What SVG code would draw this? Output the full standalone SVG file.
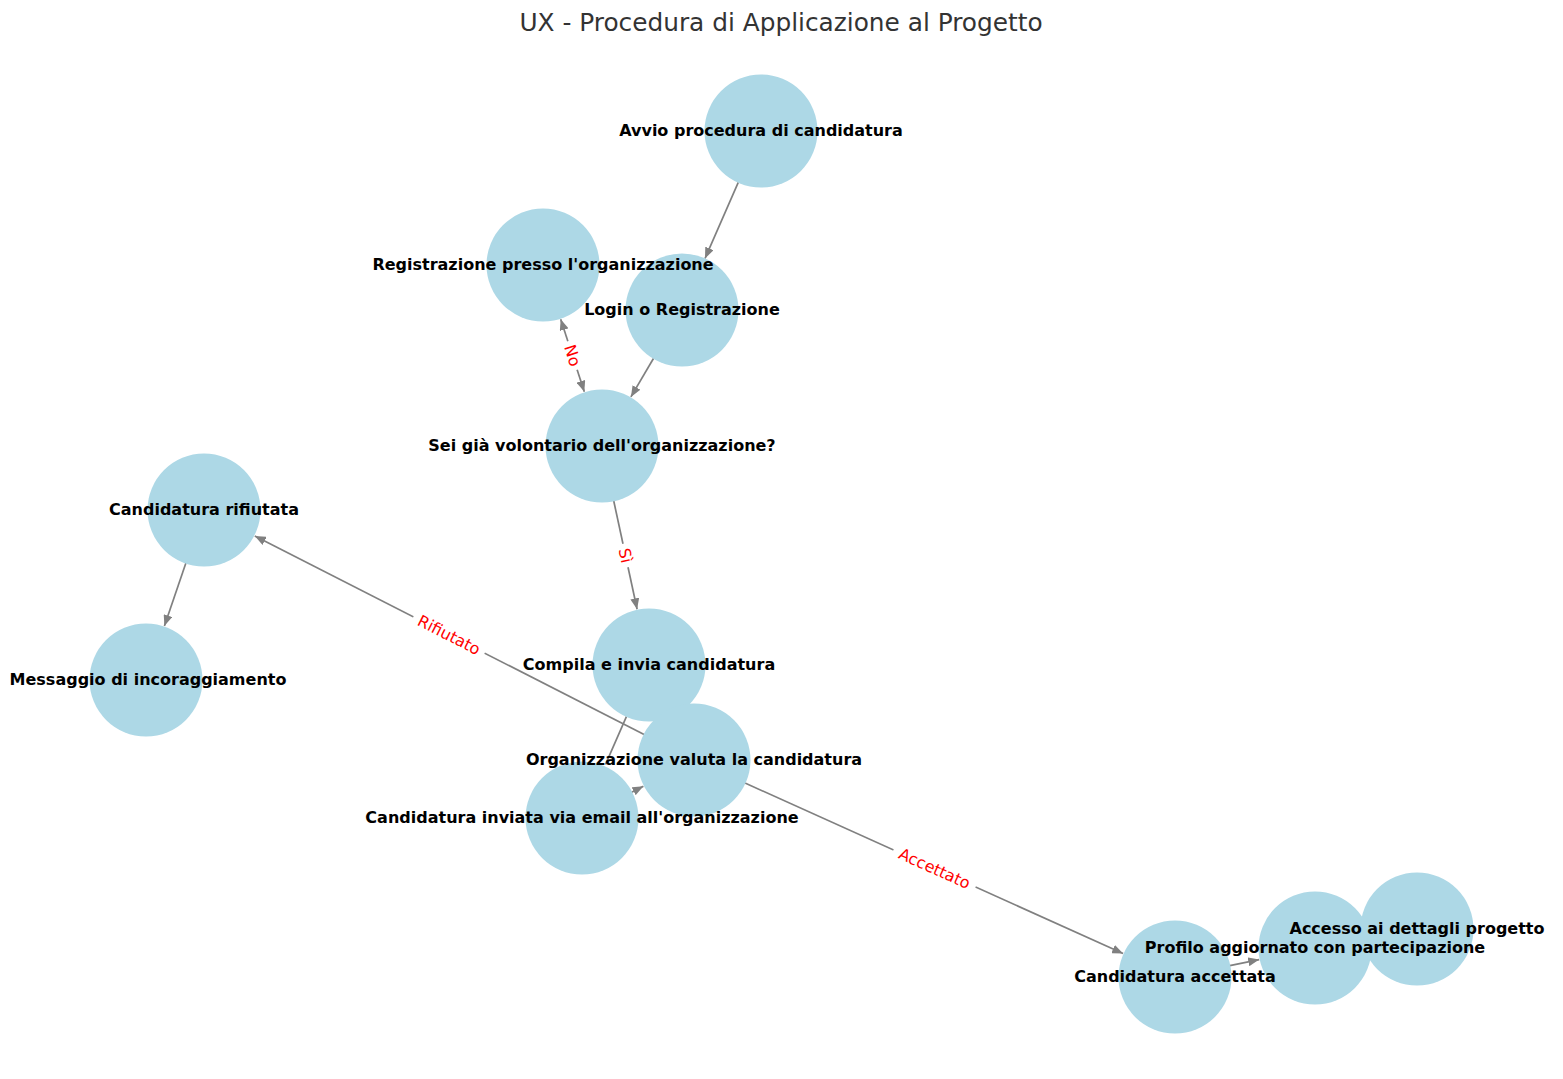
<svg xmlns="http://www.w3.org/2000/svg" width="1563" height="1079" viewBox="0 0 1563 1079">
<style>
.bg{fill:#ffffff}
.title{font-family:"DejaVu Sans",sans-serif;font-size:24.8px;fill:#333333;text-anchor:middle}
.node circle{fill:#ADD8E6}
.lbl{font-family:"DejaVu Sans",sans-serif;font-weight:bold;font-size:16px;fill:#000000;text-anchor:middle;dominant-baseline:central}
.edge{stroke:#808080;stroke-width:1.7;fill:none}
.elbl{font-family:"DejaVu Sans",sans-serif;font-size:16px;fill:#ff0000;text-anchor:middle;dominant-baseline:central}
.lblbg{fill:#ffffff}
</style>
<defs>
<marker id="arr" viewBox="0 0 11 9" refX="11" refY="4.5" markerWidth="11" markerHeight="9" markerUnits="userSpaceOnUse" orient="auto-start-reverse">
<path d="M0,0 L11,4.5 L0,9 Z" fill="#808080"/>
</marker>
<clipPath id="axclip"><rect x="10" y="0" width="1553" height="1079"/></clipPath>
</defs>
<rect class="bg" x="0" y="0" width="1563" height="1079"/>
<text class="title" x="781" y="31">UX - Procedura di Applicazione al Progetto</text>
<g id="connectors">
<line class="edge" x1="738.4" y1="182.2" x2="705" y2="258.5" marker-end="url(#arr)"/>
<line class="edge" x1="653.6" y1="358.3" x2="630.9" y2="396.9" marker-end="url(#arr)"/>
<line class="edge" x1="584.3" y1="391.8" x2="560.7" y2="319.2" marker-start="url(#arr)" marker-end="url(#arr)"/>
<line class="edge" x1="613.7" y1="500.8" x2="637.1" y2="609.3" marker-end="url(#arr)"/>
<line class="edge" x1="626.5" y1="716.3" x2="605.5" y2="764.5"/>
<line class="edge" x1="631.7" y1="792.2" x2="643.4" y2="786.2" marker-end="url(#arr)"/>
<line class="edge" x1="644.1" y1="734.5" x2="254.8" y2="535.9" marker-end="url(#arr)"/>
<line class="edge" x1="745" y1="783" x2="1123.1" y2="953.6" marker-end="url(#arr)"/>
<line class="edge" x1="185.9" y1="563" x2="164.4" y2="626" marker-end="url(#arr)"/>
<line class="edge" x1="1229.8" y1="965.6" x2="1259.2" y2="959.6" marker-end="url(#arr)"/>
</g>
<g id="n_avvio" class="node"><circle cx="761" cy="131" r="56.5"/></g>
<g id="n_registrazione" class="node"><circle cx="543" cy="265" r="56.5"/></g>
<g id="n_login" class="node"><circle cx="682" cy="310" r="56.5"/></g>
<g id="n_sei" class="node"><circle cx="602" cy="446" r="56.5"/></g>
<g id="n_rifiutata" class="node"><circle cx="204" cy="510" r="56.5"/></g>
<g id="n_messaggio" class="node"><circle cx="146" cy="680" r="56.5"/></g>
<g id="n_compila" class="node"><circle cx="649" cy="665" r="56.5"/></g>
<g id="n_organizzazione" class="node"><circle cx="694" cy="760" r="56.5"/></g>
<g id="n_inviata" class="node"><circle cx="582" cy="818" r="56.5"/></g>
<g id="n_accettata" class="node"><circle cx="1175" cy="977" r="56.5"/></g>
<g id="n_profilo" class="node"><circle cx="1315" cy="948" r="56.5"/></g>
<g id="n_accesso" class="node"><circle cx="1417" cy="929" r="56.5"/></g>
<g id="node_labels" clip-path="url(#axclip)">
<text class="lbl" x="761" y="130">Avvio procedura di candidatura</text>
<text class="lbl" x="543" y="264">Registrazione presso l'organizzazione</text>
<text class="lbl" x="682" y="309">Login o Registrazione</text>
<text class="lbl" x="602" y="445">Sei già volontario dell'organizzazione?</text>
<text class="lbl" x="204" y="509">Candidatura rifiutata</text>
<text class="lbl" x="148" y="679">Messaggio di incoraggiamento</text>
<text class="lbl" x="649" y="664">Compila e invia candidatura</text>
<text class="lbl" x="694" y="759">Organizzazione valuta la candidatura</text>
<text class="lbl" x="582" y="817">Candidatura inviata via email all'organizzazione</text>
<text class="lbl" x="1175" y="976">Candidatura accettata</text>
<text class="lbl" x="1315" y="947">Profilo aggiornato con partecipazione</text>
<text class="lbl" x="1417" y="928">Accesso ai dettagli progetto</text>
</g>
<g id="edge_labels">
<g transform="translate(572.5,355.5) rotate(72)"><rect class="lblbg" x="-15" y="-10" width="30" height="20"/><text class="elbl" x="0" y="0">No</text></g>
<g transform="translate(625.5,555.5) rotate(78)"><rect class="lblbg" x="-12" y="-10" width="24" height="20"/><text class="elbl" x="0" y="0">Sì</text></g>
<g transform="translate(449,635) rotate(27)"><rect class="lblbg" x="-40" y="-10" width="80" height="20"/><text class="elbl" x="0" y="0">Rifiutato</text></g>
<g transform="translate(934.5,868.5) rotate(24.3)"><rect class="lblbg" x="-45" y="-10" width="90" height="20"/><text class="elbl" x="0" y="0">Accettato</text></g>
</g>
</svg>
